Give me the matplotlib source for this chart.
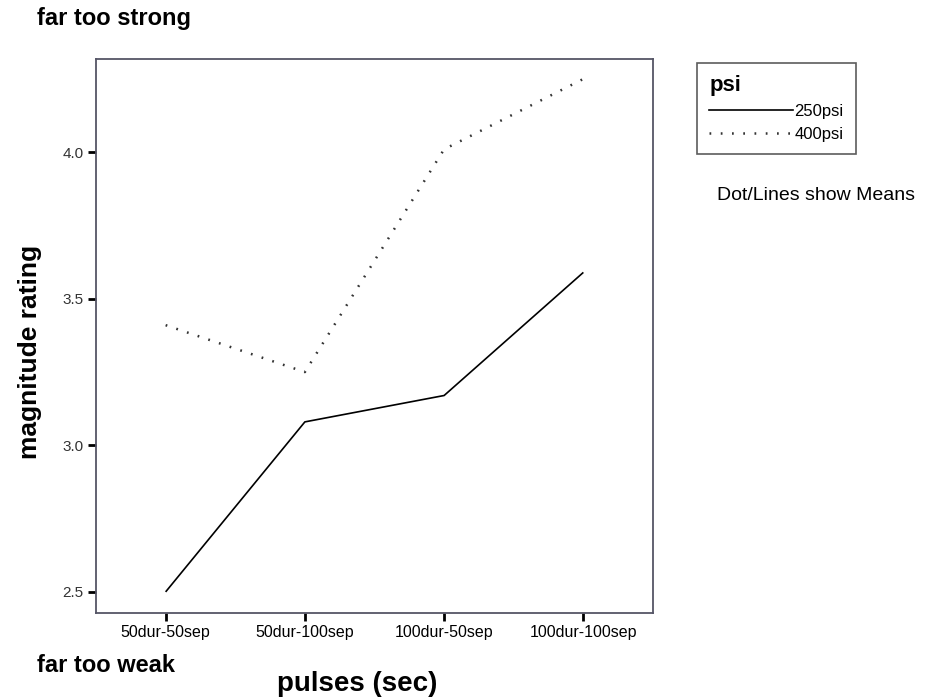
import matplotlib
matplotlib.use("Agg")
import matplotlib.pyplot as plt
from matplotlib.lines import Line2D

plt.rcParams['font.family'] = ['Liberation Sans', 'DejaVu Sans']

# data
pulses = ["50dur-50sep", "50dur-100sep", "100dur-50sep", "100dur-100sep"]
psi_250 = [2.50, 3.08, 3.17, 3.59]
psi_400 = [3.41, 3.25, 4.01, 4.25]
y_ticks = [2.5, 3.0, 3.5, 4.0]

fig = plt.figure(figsize=(9.37, 7.0), dpi=100)
ax = fig.add_axes([96/937, 1 - 613/700, (653 - 96)/937, (613 - 59)/700])

x = range(len(pulses))
ax.plot(x, psi_250, color="black", lw=1.2, solid_capstyle="butt")
ax.plot(x, psi_400, color="#333333", lw=1.8, linestyle=(0, (0.7, 3.8)))

ax.set_xlim(-0.5, 3.5)
ax.set_ylim(2.428, 4.318)
ax.set_xticks(list(x))
ax.set_xticklabels(pulses, fontsize=11.5)
ax.set_yticks(y_ticks)
ax.set_yticklabels([f"{v:.1f}" for v in y_ticks], fontsize=11, color="#333333")
ax.tick_params(direction="out", length=6, width=2, color="black", pad=3)
for s in ax.spines.values():
    s.set_color("#555566")
    s.set_linewidth(1.3)

fig.text(30/937, 1 - 352/700, "magnitude rating", fontsize=19, fontweight="bold",
         rotation=90, ha="center", va="center")
fig.text(357/937, 1 - 684/700, "pulses (sec)", fontsize=20, fontweight="bold",
         ha="center", va="center")
fig.text(37/937, 1 - 19/700, "far too strong", fontsize=17, fontweight="bold",
         ha="left", va="center")
fig.text(37/937, 1 - 666/700, "far too weak", fontsize=17, fontweight="bold",
         ha="left", va="center")

handles = [Line2D([], [], color="black", lw=1.2),
           Line2D([], [], color="#333333", lw=1.8, linestyle=(0, (0.7, 3.8)))]
leg = fig.legend(handles, ["250psi", "400psi"], title="psi",
                 loc="upper left", bbox_to_anchor=(697/937, 1 - 63/700),
                 fontsize=12, title_fontproperties={"weight": "bold", "size": 16},
                 frameon=True, fancybox=False, edgecolor="#333333",
                 handlelength=5.0, handletextpad=0.1, borderpad=0.75,
                 borderaxespad=0, labelspacing=0.45, alignment="left")
leg.get_frame().set_linewidth(1.2)

fig.text(717/937, 1 - 196/700, "Dot/Lines show Means", fontsize=14,
         ha="left", va="center")

fig.savefig("out.png", dpi=100, facecolor="white")
